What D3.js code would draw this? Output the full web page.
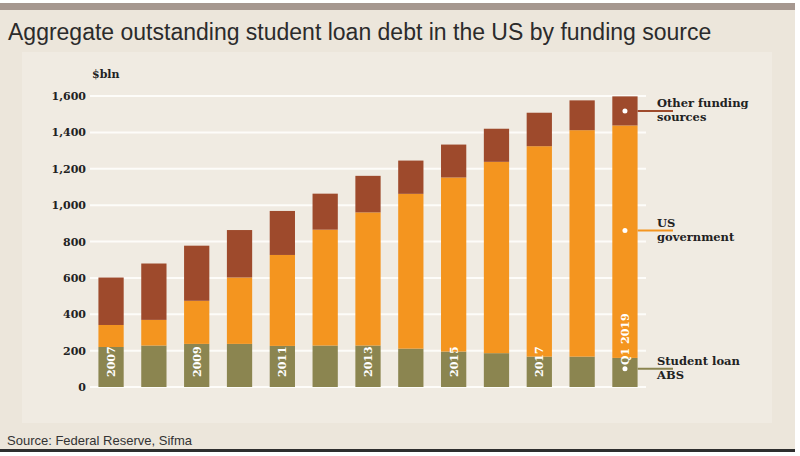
<!DOCTYPE html>
<head>
    <script src="https://d3js.org/d3.v7.min.js"></script>
    <style>
body { margin: 0; background: #fff; }
svg { display: block; }
</style>
</head>
<body>
    <svg></svg>
</body>

<script>
    // values in $bln
    var years = ["2007", "2008", "2009", "2010", "2011", "2012", "2013", "2014", "2015", "2016", "2017", "2018", "Q1 2019"];
    var barLabels = ["2007", "", "2009", "", "2011", "", "2013", "", "2015", "", "2017", "", "Q1 2019"];
    var absDebt = [220, 228, 237, 237, 226, 228, 228, 211, 195, 186, 167, 167, 160];
    var govDebt = [121, 141, 237, 365, 500, 637, 732, 851, 957, 1052, 1157, 1245, 1278];
    var otherDebt = [261, 310, 303, 261, 242, 198, 201, 183, 181, 182, 184, 164, 160];
    var yTicks = [0, 200, 400, 600, 800, 1000, 1200, 1400, 1600];

    var seriesKeys = ["abs", "gov", "other"];
    var seriesNames = [["Student loan", "ABS"], ["US", "government"], ["Other funding", "sources"]];
    var legendAnchors = [100, 860, 1518]; // where the white dots sit on the last bar
    var colors = ["#8b8550", "#f4951f", "#9e4a2c"];

    var width = 800;
    var height = 456;

    var svg = d3.select('svg')
        .attr('width', width)
        .attr('height', height);

    // frame
    svg.append('rect').attr('x', 0).attr('y', 3).attr('width', 795).attr('height', 447).attr('fill', '#ece6db');
    svg.append('rect').attr('x', 0).attr('y', 3).attr('width', 795).attr('height', 7).attr('fill', '#a69890');
    svg.append('rect').attr('x', 22).attr('y', 52).attr('width', 750).attr('height', 371).attr('fill', '#f0ebe2');
    svg.append('rect').attr('x', 0).attr('y', 449).attr('width', 795).attr('height', 3).attr('fill', '#2e2e2e');

    svg.append('text')
        .attr('x', 8).attr('y', 40)
        .style('font-family', '"Liberation Sans", Arial, sans-serif')
        .style('font-size', '23px')
        .style('fill', '#2b2b2b')
        .text('Aggregate outstanding student loan debt in the US by funding source');

    svg.append('text')
        .attr('x', 7).attr('y', 445)
        .style('font-family', '"Liberation Sans", Arial, sans-serif')
        .style('font-size', '13px')
        .style('fill', '#333')
        .text('Source: Federal Reserve, Sifma');

    var table = years.map(function (y, i) {
        return { year: y, abs: absDebt[i], gov: govDebt[i], other: otherDebt[i] };
    });

    var x = d3.scaleBand()
        .domain(years)
        .range([89, 647])
        .paddingInner(0.41)
        .paddingOuter(0.22);

    var y = d3.scaleLinear()
        .domain([0, 1600])
        .range([387, 96]);

    var serif = '"DejaVu Serif", serif';

    // gridlines
    svg.append('g')
        .selectAll('line')
        .data(yTicks)
        .enter().append('line')
        .attr('x1', 90).attr('x2', 646)
        .attr('y1', function (d) { return y(d); })
        .attr('y2', function (d) { return y(d); })
        .style('stroke', '#fdfcf9')
        .style('stroke-width', 2);

    var yAxis = svg.append('g')
        .attr('transform', 'translate(86,0)')
        .call(d3.axisLeft(y).tickValues(yTicks).tickSize(0).tickPadding(0).tickFormat(d3.format(',')));
    yAxis.select('.domain').remove();
    yAxis.selectAll('text')
        .style('font-family', serif)
        .style('font-size', '11px')
        .style('font-weight', 'bold')
        .style('fill', '#222');

    svg.append('text')
        .attr('x', 92).attr('y', 78)
        .style('font-family', serif)
        .style('font-size', '11px')
        .style('font-weight', 'bold')
        .style('fill', '#222')
        .text('$bln');

    var stacked = d3.stack().keys(seriesKeys)(table);

    svg.append('g')
        .selectAll('g')
        .data(stacked)
        .enter().append('g')
        .style('fill', function (d, i) { return colors[i]; })
        .selectAll('rect')
        .data(function (d) { return d; })
        .enter().append('rect')
        .attr('x', function (d) { return x(d.data.year); })
        .attr('width', x.bandwidth())
        .attr('y', function (d) { return y(d[1]); })
        .attr('height', function (d) { return y(d[0]) - y(d[1]); });

    // year labels inside the bars
    svg.append('g')
        .selectAll('text')
        .data(years)
        .enter().append('text')
        .attr('transform', function (d, i) {
            var off = i === years.length - 1 ? 22 : 10;
            return 'translate(' + (x(d) + x.bandwidth() / 2) + ',' + (y(0) - off) + ')rotate(-90)';
        })
        .attr('dy', '0.36em')
        .style('font-family', serif)
        .style('font-size', '11px')
        .style('font-weight', 'bold')
        .style('fill', '#fff')
        .text(function (d, i) { return barLabels[i]; });

    // legend: dot on last bar, leader line, two-line label
    var last = years[years.length - 1];
    var cx = x(last) + x.bandwidth() / 2;
    var barRight = x(last) + x.bandwidth();
    var legend = svg.append('g')
        .selectAll('g')
        .data(seriesKeys)
        .enter().append('g');

    legend.append('line')
        .attr('x1', barRight).attr('x2', 673)
        .attr('y1', function (d, i) { return y(legendAnchors[i]); })
        .attr('y2', function (d, i) { return y(legendAnchors[i]); })
        .style('stroke', function (d, i) { return colors[i]; })
        .style('stroke-width', 2);

    legend.append('circle')
        .attr('cx', cx)
        .attr('cy', function (d, i) { return y(legendAnchors[i]); })
        .attr('r', 2.5)
        .style('fill', '#fff');

    legend.append('text')
        .attr('x', 657)
        .attr('y', function (d, i) { return y(legendAnchors[i]) - 4; })
        .style('font-family', serif)
        .style('font-size', '11.5px')
        .style('font-weight', 'bold')
        .style('fill', '#222')
        .selectAll('tspan')
        .data(function (d, i) { return seriesNames[i]; })
        .enter().append('tspan')
        .attr('x', 657)
        .attr('dy', function (d, j) { return j ? 14 : 0; })
        .text(function (d) { return d; });
</script>
